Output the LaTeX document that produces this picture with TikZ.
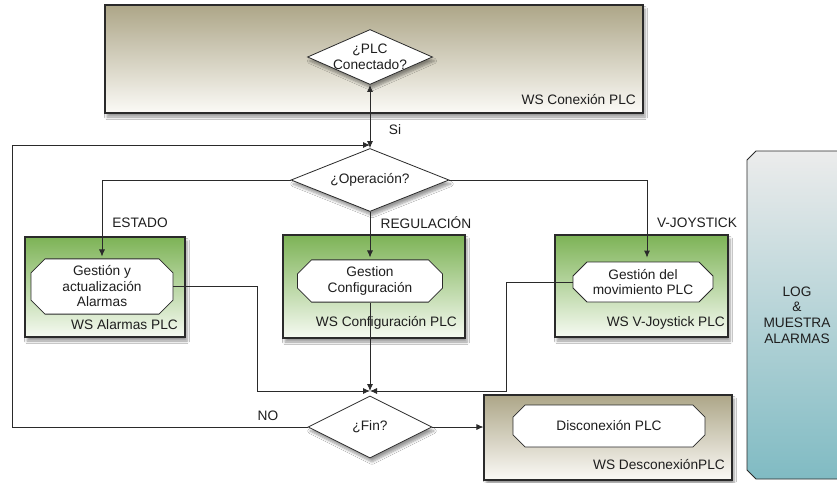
\documentclass[tikz,border=0pt]{standalone}
\usepackage{fontspec}
\setmainfont{Liberation Sans}
\usetikzlibrary{shapes.geometric,shapes.misc,arrows.meta,shadows.blur}

\definecolor{tanTop}{HTML}{ADA688}
\definecolor{tanBot}{HTML}{FBFAF6}
\definecolor{grnTop}{HTML}{7DB356}
\definecolor{grnBot}{HTML}{F6FAF2}
\definecolor{tealTop}{HTML}{ECECEC}
\definecolor{tealBot}{HTML}{80BBC3}
\definecolor{ink}{HTML}{1E1E1E}
\definecolor{edge}{HTML}{2A2A2A}

\begin{document}
\begin{tikzpicture}[x=1pt,y=-1pt,
  font=\fontsize{13.7}{15.5}\selectfont, text=ink,
  sh/.style={blur shadow={shadow xshift=2pt,shadow yshift=-4pt,
      shadow blur steps=6,shadow blur radius=2.5pt,shadow opacity=40}},
  wsbox/.style={rectangle, draw=edge, line width=1.1pt, sh, inner sep=0pt},
  tanbox/.style={wsbox, top color=tanTop, bottom color=tanBot},
  grnbox/.style={wsbox, top color=grnTop, bottom color=grnBot},
  task/.style={chamfered rectangle, chamfered rectangle xsep=7pt,
      chamfered rectangle ysep=7pt, draw=edge, fill=white,
      line width=0.8pt, inner sep=0pt, align=center},
  dec/.style={diamond, draw=edge, fill=white, line width=0.8pt,
      inner sep=0pt, sh},
  wslabel/.style={anchor=east, inner sep=0pt},
  flow/.style={draw=edge, line width=0.8pt},
  arr/.style={flow, -{Latex[length=7pt,width=6pt]}},
  ]
\useasboundingbox[fill=white] (0,0) rectangle (837,482);

% --- log panel on the right
\shade[top color=tealTop, bottom color=tealBot, draw=edge, line width=0.8pt]
  (845,151) -- (756,151) -- (747,160) -- (747,470) -- (756,479) -- (845,479);
\node[align=center, font=\fontsize{13.7}{15.7}\selectfont] (log) at (797,315)
  {LOG\\\&\\MUESTRA\\ALARMAS};

% --- web service containers
\node[tanbox, minimum width=538pt, minimum height=108pt] (wsCon) at (374,59) {};
\node[wslabel] (wsConL) at (636,100) {WS Conexión PLC};

\node[grnbox, minimum width=160pt, minimum height=100pt] (wsAl) at (105,287) {};
\node[wslabel] (wsAlL) at (178,325) {WS Alarmas PLC};

\node[grnbox, minimum width=182pt, minimum height=103pt] (wsCf) at (374,286.5) {};
\node[wslabel] (wsCfL) at (457,323) {WS Configuración PLC};

\node[grnbox, minimum width=173pt, minimum height=102pt] (wsJy) at (641.5,286) {};
\node[wslabel] (wsJyL) at (725,323) {WS V-Joystick PLC};

\node[tanbox, minimum width=248pt, minimum height=85pt] (wsDc) at (608,437.5) {};
\node[wslabel] (wsDcL) at (725,465) {WS DesconexiónPLC};

% --- tasks
\node[task, minimum width=142pt, minimum height=53pt] (alarmT) at (102,286.5)
  {Gestión y\\actualización\\Alarmas};
\node[task, minimum width=145pt, minimum height=42pt] (confT) at (370,281)
  {Gestion\\Configuración};
\node[task, minimum width=140pt, minimum height=40pt] (joyT) at (643,282)
  {Gestión del\\movimiento PLC};
\node[task, minimum width=192pt, minimum height=42pt] (discT) at (609,426)
  {Disconexión PLC};

% --- decisions
\node[dec, minimum width=125pt, minimum height=55pt,
  label={[align=center]center:¿PLC\\Conectado?}] (plc) at (370,57) {};
\node[dec, minimum width=158pt, minimum height=63pt,
  label={center:¿Operación?}] (op) at (370,180) {};
\node[dec, minimum width=124pt, minimum height=62pt,
  label={center:¿Fin?}] (fin) at (370,427) {};

% --- junction points
\coordinate (loopBot) at (12,427);
\coordinate (loopTop) at (12,145);
\coordinate (opIn) at (370,145);
\coordinate (jCorner) at (647,180);
\coordinate (aDrop) at (257,391);
\coordinate (jDrop) at (506,391);
\coordinate (finIn) at (370,391);

% --- connectors
\draw[flow, {Latex[length=7pt,width=6pt]}-{Latex[length=7pt,width=6pt]}]
  (plc.south) -- (op.north);
\draw[arr] (fin.west) -- (loopBot) -- (loopTop) -- (opIn);
\draw[arr, shorten >=2pt] (op.west) -| (alarmT.north);
\draw[arr, shorten >=2pt] (op.south) -- (confT.north);
\draw[arr, shorten >=4pt] (op.east) -- (jCorner) -- (jCorner |- joyT.north);
\draw[arr] (alarmT.east) -| (aDrop) -- (finIn);
\draw[arr] (joyT.west) -| (jDrop) -- (finIn);
\draw[arr] (confT.south) -- (finIn);
\draw[arr] (fin.east) -- (fin.east -| wsDc.west);

% --- branch labels
\node (si) at (395,130) {Si};
\node (estado) at (140,223) {ESTADO};
\node (regul) at (426,223) {REGULACIÓN};
\node (vjoy) at (697,223) {V-JOYSTICK};
\node (no) at (268,416) {NO};
\end{tikzpicture}
\end{document}
